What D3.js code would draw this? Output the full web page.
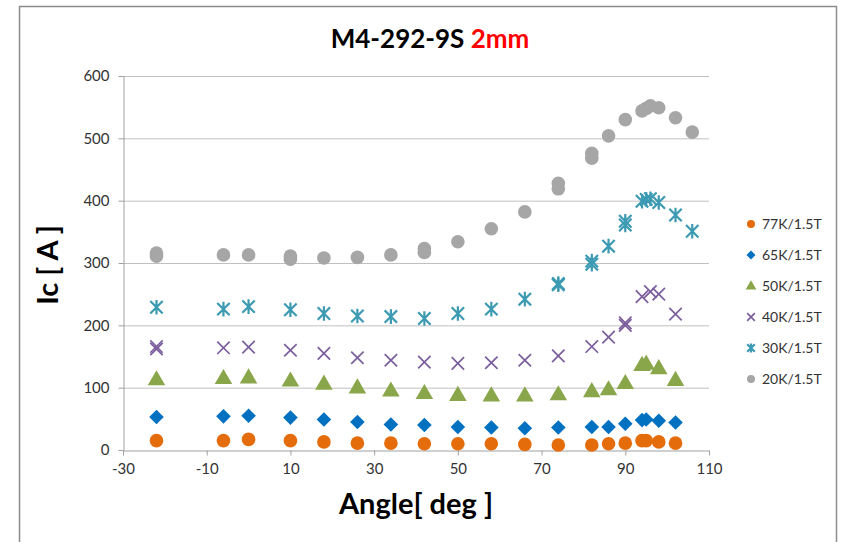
<!DOCTYPE html>
<html>
<head>
<meta charset="utf-8">
<script src="https://cdn.jsdelivr.net/npm/d3@7"></script>
<style>
  body { margin: 0; background: #fff; }
  text { font-family: Lato, "Open Sans", sans-serif; }
</style>
</head>
<body>
<div id="chart"></div>
<script>
const width = 844;
const height = 542;

// angle of each measurement (repeats = repeated measurements)
const angles = [-22, -22, -6, 0, 10, 10, 18, 26, 34, 42, 42, 50, 58, 66, 74, 74, 82, 82, 86, 90, 90, 94, 95, 96, 98, 102, 106];

const ic20K = [316, 311, 313, 313, 311, 306, 308, 309, 313, 323, 317, 334, 355, 382, 428, 419, 476, 468, 504, 530, null, 544, 548, 552, 549, 533, 510];
const ic30K = [229, null, 226, 230, 225, null, 219, 215, 214, 211, null, 219, 226, 242, 267, 265, 303, 298, 327, 367, 361, 399, 402, 403, 397, 377, 351];
const ic40K = [166, 162, 164, 165, 160, null, 155, 148, 144, 141, null, 139, 140, 144, 151, null, 166, null, 181, 204, 200, 246, null, 254, 250, 218, null];
const ic50K = [113, null, 115, 116, 111, null, 106, 100, 95, 91, null, 88, 87, 87, 89, null, 94, null, 97, 107, null, 136, 138, null, 131, 112, null];
const ic65K = [53, null, 54, 55, 52, null, 49, 45, 41, 40, null, 37, 36, 35, 36, null, 37, null, 37, 42, null, 48, 49, null, 47, 44, null];
const ic77K = [15, null, 15, 17, 15, null, 13, 11, 11, 10, null, 10, 10, 9, 8, null, 8, null, 10, 11, null, 15, 15, null, 13, 11, null];

const xTicks = [-30, -10, 10, 30, 50, 70, 90, 110];
const yTicks = [0, 100, 200, 300, 400, 500, 600];

const series = [
  { name: '77K/1.5T', values: ic77K, color: '#E46C0A', shape: 'circle' },
  { name: '65K/1.5T', values: ic65K, color: '#0070C0', shape: 'diamond' },
  { name: '50K/1.5T', values: ic50K, color: '#8AA64B', shape: 'triangle' },
  { name: '40K/1.5T', values: ic40K, color: '#7B5E9C', shape: 'cross' },
  { name: '30K/1.5T', values: ic30K, color: '#3C9AB2', shape: 'star' },
  { name: '20K/1.5T', values: ic20K, color: '#A6A6A6', shape: 'circle' }
];

const svg = d3.select('#chart').append('svg')
  .attr('width', width)
  .attr('height', height);

// outer chart frame
svg.append('rect')
  .attr('x', 19.5).attr('y', 6.5)
  .attr('width', 817).attr('height', 545)
  .style('fill', 'none')
  .style('stroke', '#8c8c8c')
  .style('stroke-width', 1.5);

const x = d3.scaleLinear().domain([-30, 110]).range([123, 709]);
const y = d3.scaleLinear().domain([0, 600]).range([450, 76]);

// gridlines
svg.append('g')
  .selectAll('line')
  .data(yTicks.filter(d => d > 0))
  .join('line')
  .attr('x1', x(-30)).attr('x2', x(110))
  .attr('y1', d => y(d) + 0.5).attr('y2', d => y(d) + 0.5)
  .style('stroke', '#c0c0c0')
  .style('stroke-width', 1);

const xAxis = svg.append('g')
  .attr('transform', `translate(0, ${y(0) + 0.5})`)
  .call(d3.axisBottom(x).tickValues(xTicks).tickFormat(d => String(d))
    .tickSize(5).tickSizeOuter(0).tickPadding(8));

const yAxis = svg.append('g')
  .attr('transform', `translate(${x(-30) + 0.5}, 0)`)
  .call(d3.axisLeft(y).tickValues(yTicks).tickFormat(d => String(d))
    .tickSize(5).tickSizeOuter(0).tickPadding(9));

[xAxis, yAxis].forEach(g => {
  g.select('.domain').style('stroke', '#a0a0a0');
  g.selectAll('.tick line').style('stroke', '#a0a0a0');
  g.selectAll('.tick text')
    .style('font-size', '15px')
    .style('fill', '#333');
});

const symbolFor = (shape, size) => {
  if (shape === 'diamond') return d3.symbol(d3.symbolSquare, size)();
  return d3.symbol(d3.symbolTriangle, size)();
};

const drawMarker = (g, s, r) => {
  if (s.shape === 'circle') {
    g.append('circle').attr('r', r).style('fill', s.color);
  } else if (s.shape === 'diamond') {
    g.append('path').attr('d', symbolFor('diamond', r * r * 2.0))
      .attr('transform', 'rotate(45)').style('fill', s.color);
  } else if (s.shape === 'triangle') {
    g.append('path').attr('d', symbolFor('triangle', r * r * 2.5))
      .attr('transform', `translate(0, ${r * 0.1})`).style('fill', s.color);
  } else {
    const a = r * 0.85;
    g.append('path')
      .attr('d', `M${-a},${-a}L${a},${a}M${-a},${a}L${a},${-a}` + (s.shape === 'star' ? `M0,${-r}L0,${r}` : ''))
      .style('stroke', s.color)
      .style('stroke-width', s.shape === 'star' ? 2.2 : 1.7)
      .style('fill', 'none');
  }
};

const plot = svg.append('g');
series.slice().reverse().forEach(s => {
  const pts = angles.map((a, i) => [a, s.values[i]]).filter(d => d[1] !== null);
  plot.append('g').selectAll('g')
    .data(pts)
    .join('g')
    .attr('transform', d => `translate(${x(d[0])}, ${y(d[1])})`)
    .each(function () { drawMarker(d3.select(this), s, s.shape === 'circle' ? 6.8 : 7.3); });
});

// legend
const legend = svg.append('g');
series.forEach((s, i) => {
  const row = legend.append('g').attr('transform', `translate(751, ${224 + i * 31})`);
  drawMarker(row.append('g'), s, s.shape === 'circle' ? 4 : 4.5);
  row.append('text')
    .attr('x', 11).attr('y', 5)
    .style('font-size', '14px')
    .style('fill', '#333')
    .text(s.name);
});

// title
const title = svg.append('text')
  .attr('x', 430).attr('y', 48)
  .attr('text-anchor', 'middle')
  .style('font-size', '26px')
  .style('font-weight', 'bold');
title.append('tspan').style('fill', '#000').text('M4-292-9S ');
title.append('tspan').style('fill', '#FF0000').text('2mm');

// axis titles
svg.append('text')
  .attr('x', 416).attr('y', 514)
  .attr('text-anchor', 'middle')
  .style('font-size', '29px')
  .style('font-weight', 'bold')
  .text('Angle[ deg ]');

svg.append('text')
  .attr('transform', 'translate(58, 265) rotate(-90)')
  .attr('text-anchor', 'middle')
  .style('font-size', '29px')
  .style('font-weight', 'bold')
  .text('Ic [ A ]');
</script>
</body>
</html>
